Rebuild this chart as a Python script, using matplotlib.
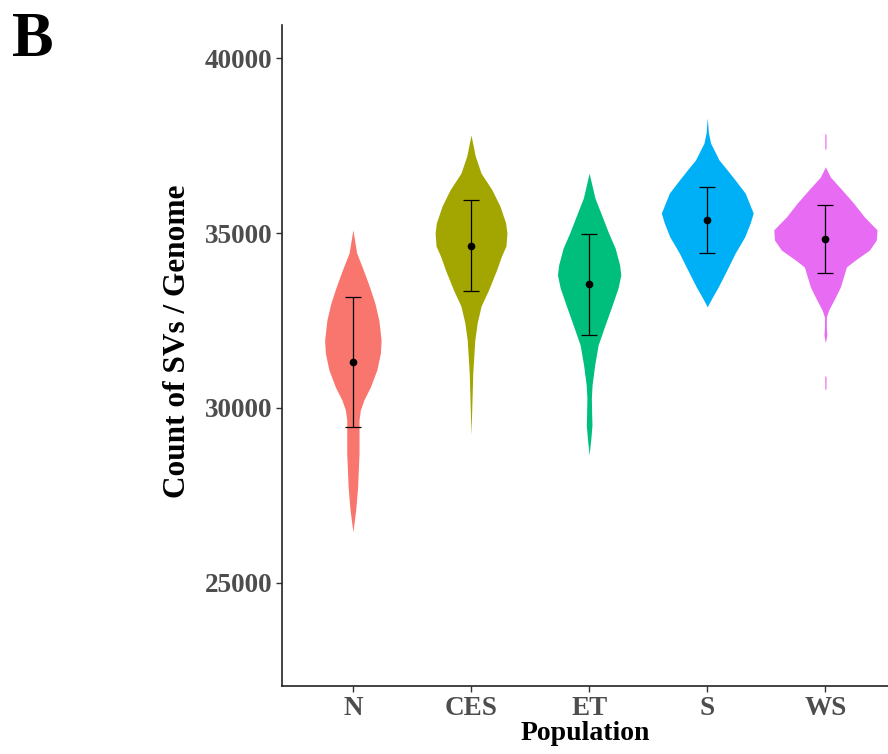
import matplotlib
matplotlib.use("Agg")
import matplotlib.pyplot as plt
import numpy as np

# populations and their ggplot-style hue colours
populations = ["N", "CES", "ET", "S", "WS"]
colors = ["#F8766D", "#A3A500", "#00BF7D", "#00B0F6", "#E76BF3"]

# mean and standard deviation of SV count per genome
means = [31310, 34630, 33540, 35370, 34830]
sds = [1860, 1300, 1440, 940, 960]

# violin outlines: SV count levels and half-width of the density there
n_y = [35090, 34430, 33940, 33460, 33000, 32510, 31940, 31570, 31090, 30600,
       30230, 29940, 29660, 28710, 27740, 27090, 26460]
n_w = [0, .032, .089, .141, .186, .220, .239, .233, .203, .148,
       .093, .063, .052, .052, .040, .024, 0]

ces_y = [37800, 37200, 36710, 36230, 35770, 35290, 35000, 34630, 34340, 33940,
         33370, 32910, 32430, 31940, 31000, 29230]
ces_w = [0, .036, .085, .178, .245, .293, .304, .296, .258, .216,
         .148, .085, .052, .032, .015, 0]

et_y = [36710, 36000, 35510, 35030, 34570, 34090, 33800, 33430, 32940, 32370,
        31800, 31230, 30660, 30290, 29890, 29510, 29140, 28660]
et_w = [0, .049, .106, .161, .220, .258, .268, .245, .195, .135,
        .076, .047, .025, .019, .021, .024, .015, 0]

s_y = [38290, 37860, 37570, 37090, 36800, 36510, 36140, 35570, 35290, 34890,
       34430, 33940, 33460, 33090, 32890]
s_w = [0, .010, .028, .099, .169, .237, .321, .389, .364, .317,
       .237, .165, .093, .031, 0]

ws_y = [37860, 37800, 37430, 37370, 36890, 36600, 36230, 35860, 35460, 35090,
        34800, 34510, 34230, 34030, 33740, 33460, 33170, 32800, 32600, 32310,
        32090, 31860, 30940, 30890, 30570, 30510]
ws_w = [0, .005, .005, 0, 0, .042, .141, .237, .330, .437,
        .431, .372, .254, .178, .152, .127, .085, .028, .008, .008,
        .012, 0, 0, .005, .005, 0]

violin_y = [n_y, ces_y, et_y, s_y, ws_y]
violin_w = [n_w, ces_w, et_w, s_w, ws_w]

serif = ["Liberation Serif", "DejaVu Serif"]
plt.rcParams["font.family"] = serif
plt.rcParams["font.weight"] = "bold"

fig = plt.figure(figsize=(8.88, 7.54), dpi=100)
ax = fig.add_axes([282 / 888, 68 / 754, 606 / 888, 661 / 754])

pos = np.arange(1, len(populations) + 1)
for p, ys, ws, c in zip(pos, violin_y, violin_w, colors):
    ys = np.array(ys)
    ws = np.array(ws)
    ax.fill_betweenx(ys, p - ws, p + ws, color=c, linewidth=0)

ax.errorbar(pos, means, yerr=sds, fmt="o", color="black", ms=4.5,
            elinewidth=0.9, capsize=5.5, capthick=0.9)

ax.set_xlim(0.4, 5.53)
ax.set_ylim(22057, 40943)
ax.set_xticks(pos)
ax.set_xticklabels(populations)
ax.set_yticks([25000, 30000, 35000, 40000])

for side in ["top", "right"]:
    ax.spines[side].set_visible(False)
for side in ["left", "bottom"]:
    ax.spines[side].set_linewidth(1.2)
    ax.spines[side].set_color("#222222")

ax.tick_params(axis="both", length=4, width=1.0, color="#333333",
               labelcolor="#4D4D4D", labelsize=19.5, pad=3)
for lab in ax.get_xticklabels() + ax.get_yticklabels():
    lab.set_fontweight("bold")

ax.set_xlabel("Population", fontsize=20, fontweight="bold", labelpad=0)
ax.set_ylabel("Count of SVs / Genome", fontsize=22.5, fontweight="bold")
ax.yaxis.set_label_coords(-0.149, 0.522)

fig.text(12 / 888, 1 - 56 / 754, "B", fontsize=45, fontweight="bold",
         ha="left", va="baseline")

fig.savefig("out.png", dpi=100)
